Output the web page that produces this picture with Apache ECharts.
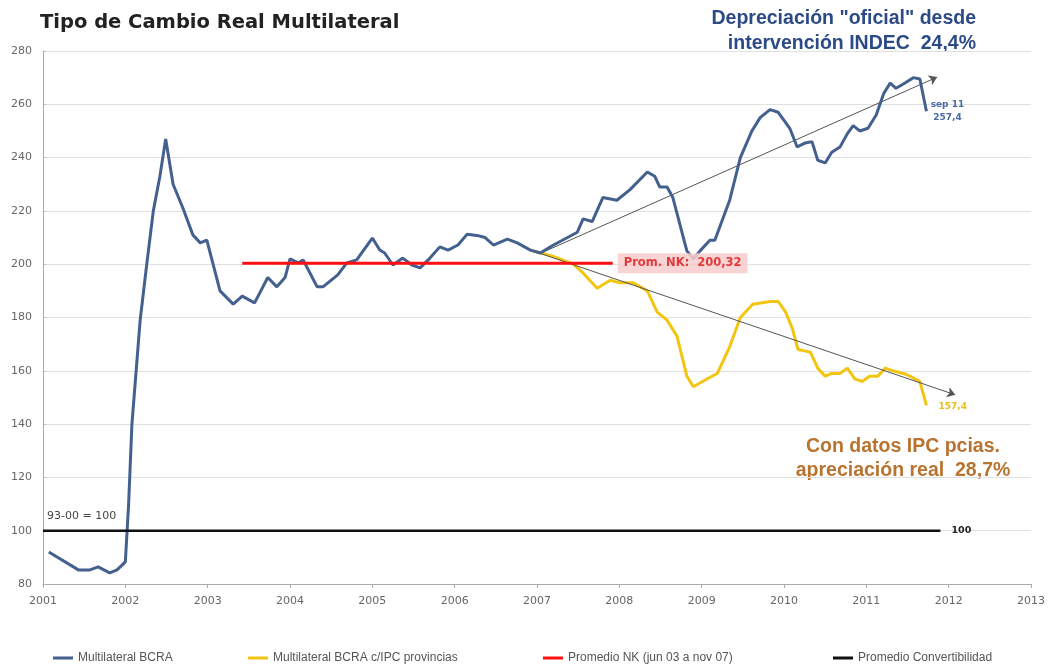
<!DOCTYPE html>
<html>
<head>
<meta charset="utf-8">
<script src="https://cdn.jsdelivr.net/npm/echarts@6/dist/echarts.min.js"></script>
<style>html,body{margin:0;padding:0;background:#fff;}#c{width:1052px;height:665px;}</style>
</head>
<body>
<div id="c"></div>
<script>
// ---- data (x = decimal year, y = index) ----
const blueData = [
  [2001.07,92],[2001.43,85.3],[2001.57,85.3],[2001.67,86.4],[2001.81,84.2],[2001.90,85.3],[2002.00,88.3],
  [2002.04,110],[2002.08,140],[2002.18,179],[2002.26,200],[2002.34,220],[2002.42,233],[2002.49,247],
  [2002.58,230],[2002.70,221],[2002.82,211],[2002.91,208],[2002.99,209],[2003.15,190],[2003.31,185],
  [2003.42,188],[2003.57,185.5],[2003.73,195],[2003.84,191.5],[2003.94,195],[2004.00,202],[2004.10,200.5],
  [2004.16,201.6],[2004.33,191.5],[2004.40,191.5],[2004.58,196],[2004.69,200.5],[2004.81,201.6],
  [2005.00,209.8],[2005.09,205.3],[2005.15,204.2],[2005.25,199.7],[2005.37,202.3],[2005.48,199.7],
  [2005.58,198.6],[2005.70,202.3],[2005.82,206.5],[2005.92,205.3],[2006.04,207.2],[2006.15,211.2],
  [2006.27,210.8],[2006.37,210],[2006.47,207.2],[2006.64,209.4],[2006.76,208],[2006.92,205.3],
  [2007.04,204.2],[2007.19,207],[2007.49,212],[2007.56,217],[2007.67,216],[2007.80,225],[2007.97,224],
  [2008.13,228],[2008.34,234.6],[2008.43,233],[2008.49,229],[2008.58,229],[2008.65,225],[2008.82,205],
  [2008.90,202],[2008.98,205],[2009.10,209],[2009.16,209],[2009.34,224],[2009.47,240],[2009.61,250],
  [2009.71,255],[2009.83,258],[2009.93,257],[2010.07,251],[2010.16,244],[2010.26,245.5],[2010.34,246],
  [2010.41,239],[2010.50,238],[2010.58,242],[2010.68,244],[2010.77,249],[2010.84,252],[2010.92,250],
  [2011.02,251],[2011.12,256],[2011.21,264],[2011.29,268],[2011.36,266],[2011.47,268],[2011.57,270],
  [2011.65,269.5],[2011.73,257.4]
];
const yellowData = [
  [2006.92,205.3],[2007.19,203],[2007.44,200],[2007.55,197],[2007.61,195],[2007.73,191],[2007.89,194],
  [2008.01,193],[2008.17,193],[2008.34,190],[2008.46,182],[2008.58,179],[2008.70,173],[2008.82,158],
  [2008.90,154],[2009.07,157],[2009.19,159],[2009.34,169],[2009.47,180],[2009.62,185],[2009.83,186],
  [2009.93,186],[2010.02,182],[2010.10,176],[2010.17,168],[2010.32,167],[2010.41,161],[2010.50,158],
  [2010.58,159],[2010.68,159],[2010.77,161],[2010.86,157],[2010.95,156],[2011.04,158],[2011.14,158],
  [2011.23,161],[2011.32,160],[2011.45,159],[2011.53,158],[2011.65,156],[2011.73,147]
];
const nkAverage = 200.32;
const nkRange = [2003.42, 2007.92];
const convAverage = 100;
const convRange = [2001.0, 2011.9];
const upTrend = [[2007.05,204.2],[2011.86,270.2]];
const downTrend = [[2006.92,205.3],[2012.08,151]];
const seriesNames = ['Multilateral BCRA','Multilateral BCRA c/IPC provincias','Promedio NK (jun 03 a nov 07)','Promedio Convertibilidad'];
const yMin = 80, yMax = 280, yStep = 20;
const xMin = 2001, xMax = 2013;

const blueColor = '#44608f', yellowColor = '#f2c511', redColor = '#ff1111', blackColor = '#111111';

const chart = echarts.init(document.getElementById('c'), null, {renderer:'canvas'});
const legendText = {color:'#555', fontSize:12, fontFamily:'Liberation Sans'};
function legendAt(name, left){
  return {data:[name], left:left, top:647, icon:'rect', itemWidth:20, itemHeight:3, itemGap:2, textStyle:legendText, selectedMode:false};
}
chart.setOption({
  animation:false,
  backgroundColor:'#fff',
  grid:{left:43, right:21, top:51, bottom:81},
  graphic:[
    {type:'text', x:40, y:13, style:{text:'Tipo de Cambio Real Multilateral', fill:'#222', font:'bold 19.5px "DejaVu Sans"'}},
    {type:'text', x:976, y:6, style:{text:'Depreciación "oficial" desde\nintervención INDEC  24,4%', fill:'#2b4a86', font:'bold 19.5px "Liberation Sans"', lineHeight:25, align:'right'}},
    {type:'text', x:903, y:435, style:{text:'Con datos IPC pcias.\napreciación real  28,7%', fill:'#b8742f', font:'bold 19.5px "Liberation Sans"', lineHeight:24, align:'center'}},
    {type:'text', x:47, y:511, style:{text:'93-00 = 100', fill:'#444', font:'11px "DejaVu Sans"'}}
  ],
  legend:[
    legendAt(seriesNames[0], 48),
    legendAt(seriesNames[1], 243),
    legendAt(seriesNames[2], 538),
    legendAt(seriesNames[3], 828)
  ],
  xAxis:{
    type:'value', min:xMin, max:xMax, interval:1,
    axisLine:{show:true, onZero:false, lineStyle:{color:'#aaa'}},
    axisTick:{show:true, length:4, lineStyle:{color:'#aaa'}},
    splitLine:{show:false},
    axisLabel:{formatter:v=>String(v), color:'#666', fontSize:11, fontFamily:'DejaVu Sans', margin:12}
  },
  yAxis:{
    type:'value', min:yMin, max:yMax, interval:yStep,
    axisLine:{show:true, lineStyle:{color:'#aaa'}},
    axisTick:{show:true, length:3, inside:true, lineStyle:{color:'#bbb'}},
    splitLine:{show:true, lineStyle:{color:'#e0e0e0'}},
    axisLabel:{color:'#666', fontSize:11, fontFamily:'DejaVu Sans', margin:11}
  },
  series:[
    {name:seriesNames[0], type:'line', data:blueData, showSymbol:false, symbol:'none', z:5,
     lineStyle:{color:blueColor, width:3}, itemStyle:{color:blueColor},
     endLabel:{show:true, formatter:'sep 11\n257,4', color:'#4a6aa0', fontSize:9, fontWeight:'bold', fontFamily:'DejaVu Sans', align:'center', lineHeight:13, distance:3, offset:[18,0]}},
    {name:seriesNames[1], type:'line', data:yellowData, showSymbol:false, symbol:'none', z:4,
     lineStyle:{color:yellowColor, width:3}, itemStyle:{color:yellowColor},
     endLabel:{show:true, formatter:'157,4', color:'#e8c020', fontSize:9, fontWeight:'bold', fontFamily:'DejaVu Sans', distance:12, offset:[0,1]}},
    {name:seriesNames[2], type:'line', data:[[nkRange[0],nkAverage],[nkRange[1],nkAverage]], showSymbol:false, symbol:'none', z:6,
     lineStyle:{color:redColor, width:3}, itemStyle:{color:redColor},
     endLabel:{show:true, formatter:'Prom. NK:  200,32', color:'#e03a3a', fontSize:11.5, fontWeight:'bold', fontFamily:'DejaVu Sans', backgroundColor:'rgba(248,205,205,0.85)', padding:[4,6,4,6], distance:5}},
    {name:seriesNames[3], type:'line', data:[[convRange[0],convAverage],[convRange[1],convAverage]], showSymbol:false, symbol:'none', z:6,
     lineStyle:{color:blackColor, width:2.5}, itemStyle:{color:blackColor},
     endLabel:{show:true, formatter:'100', color:'#222', fontSize:9.5, fontWeight:'bold', fontFamily:'DejaVu Sans', distance:11}},
    {type:'line', data:[], z:7, silent:true,
     markLine:{silent:true, symbol:['none','arrow'], symbolSize:8, label:{show:false},
       lineStyle:{color:'#555', width:1, type:'solid'},
       data:[
         [{coord:upTrend[0]},{coord:upTrend[1]}],
         [{coord:downTrend[0]},{coord:downTrend[1]}]
       ]}}
  ]
});
</script>
</body>
</html>
